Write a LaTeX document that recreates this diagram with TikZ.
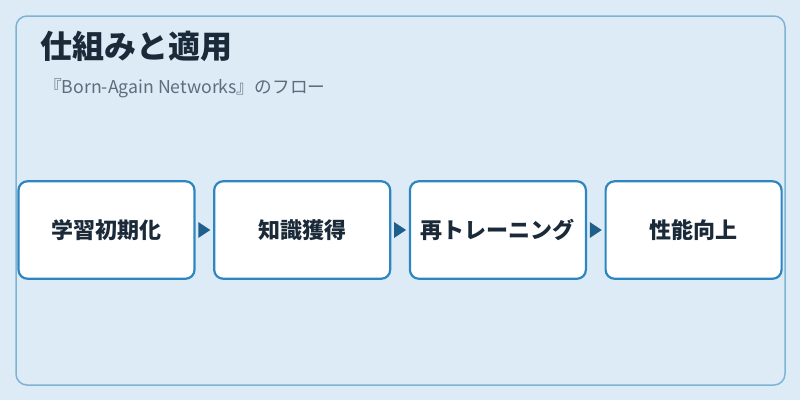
\documentclass[tikz,border=0pt]{standalone}
\usepackage{fontspec}
\setmainfont{Noto Sans CJK JP}
\usetikzlibrary{positioning,calc}
\definecolor{pagebg}{HTML}{DDEBF7}
\definecolor{framecol}{HTML}{7FB3D5}
\definecolor{boxline}{HTML}{2E86C1}
\definecolor{tipcol}{HTML}{1F5F8B}
\definecolor{inkcol}{HTML}{1B2A38}
\definecolor{subcol}{HTML}{5D6D7E}
\tikzset{
  stagebox/.style={draw=boxline,line width=2.2pt,fill=white,rounded corners=9pt,
    minimum width=176pt,minimum height=97.5pt,inner sep=0pt,
    font=\fontsize{22}{24}\selectfont\bfseries,text=inkcol},
  tipmark/.style={fill=tipcol}
}
\begin{document}
\begin{tikzpicture}[x=1pt,y=-1pt]
% background and frame
\fill[pagebg] (0,0) rectangle (800,400);
\useasboundingbox (0,0) rectangle (800,400);
\draw[framecol,line width=1.5pt,fill=pagebg,rounded corners=11pt] (16,16) rectangle (785,385);

% title
\node[anchor=west,inner sep=0pt,text=inkcol,font=\fontsize{32}{34}\selectfont\bfseries] (title) at (40,46) {仕組みと適用};
\node[anchor=west,inner sep=0pt,text=subcol,font=\fontsize{17.7}{19}\selectfont] (subtitle) at (44,88) {『Born-Again Networks』のフロー};

% stages
\node[stagebox] (init) at (106.5,230) {学習初期化};
\node[stagebox,right=17.5pt of init] (know) {知識獲得};
\node[stagebox,right=17.5pt of know] (retrain) {再トレーニング};
\node[stagebox,right=17.5pt of retrain] (gain) {性能向上};

% arrows
\foreach \a/\b in {init/know,know/retrain,retrain/gain}{
  \coordinate (m) at ($(\a.east)!0.5!(\b.west)$);
  \fill[tipmark] ([xshift=-6pt,yshift=-8pt]m) -- ([xshift=6pt]m) -- ([xshift=-6pt,yshift=8pt]m) -- cycle;
}
\end{tikzpicture}
\end{document}
